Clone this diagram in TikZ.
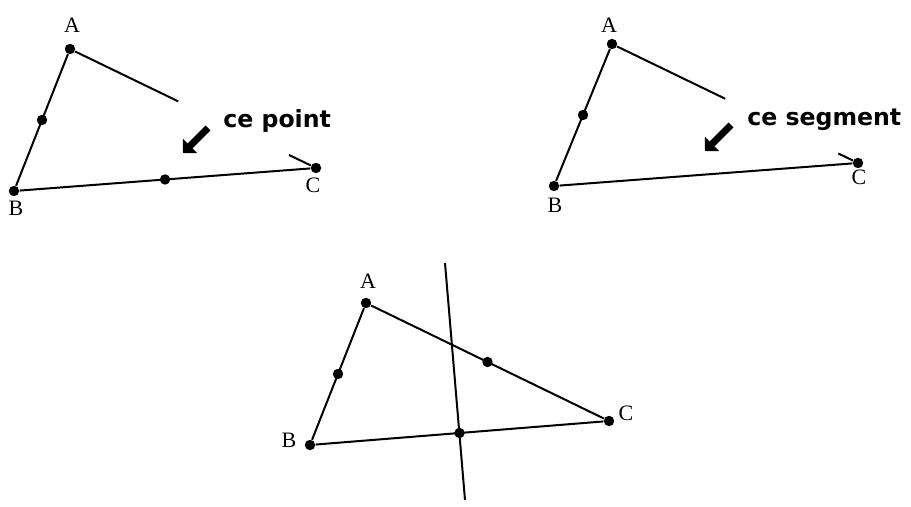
\documentclass[tikz,border=0pt]{standalone}
\usepackage{fontspec}
\setmainfont{Liberation Serif}
\newfontfamily\calloutfont{DejaVu Sans}
\usetikzlibrary{arrows.meta,calc}

\tikzset{
  vertex/.style={circle,fill=black,inner sep=0pt,minimum size=5.2pt},
  side/.style={line width=1pt},
  vlabel/.style={font=\fontsize{11}{12}\selectfont,inner sep=0pt},
  callout/.style={font=\calloutfont\bfseries\fontsize{11.8}{14}\selectfont,
    anchor=base west,inner sep=0pt},
  pointer/.style={line width=3.4pt,-{Triangle[angle=90:7pt]}},
}

\begin{document}
\begin{tikzpicture}[x=0.5pt,y=-0.5pt]
    \useasboundingbox (0,0) rectangle (911,507);

    % Panel 1: [AC] drawn from both ends, its middle missing
    \node[vertex] (A1) at (70,49) {};
    \node[vertex] (B1) at (14,191) {};
    \node[vertex] (C1) at (316,168) {};
    \draw[side] (A1) -- (B1) -- (C1);
    \draw[side] (A1) -- ($(A1)!0.44!(C1)$);
    \draw[side] (C1) -- ($(C1)!0.11!(A1)$);
    \node[vertex] (mAB1) at ($(A1)!0.5!(B1)$) {};
    \node[vertex] (mBC1) at ($(B1)!0.5!(C1)$) {};
    \node[vlabel] (lA1) at (72,25) {A};
    \node[vlabel] (lB1) at (16,208) {B};
    \node[vlabel] (lC1) at (313,185) {C};
    \coordinate (ptail1) at (208,128);
    \coordinate (ptip1) at (183,153);
    \draw[pointer] (ptail1) -- (ptip1);
    \node[callout] (txt1) at (223,128) {ce point};

    % Panel 2: same triangle, pointing to the segment
    \node[vertex] (A2) at (612,44) {};
    \node[vertex] (B2) at (554,186) {};
    \node[vertex] (C2) at (858,163) {};
    \draw[side] (A2) -- (B2) -- (C2);
    \draw[side] (A2) -- ($(A2)!0.46!(C2)$);
    \draw[side] (C2) -- ($(C2)!0.08!(A2)$);
    \node[vertex] (mAB2) at ($(A2)!0.5!(B2)$) {};
    \node[vlabel] (lA2) at (609,25) {A};
    \node[vlabel] (lB2) at (555,205) {B};
    \node[vlabel] (lC2) at (859,177) {C};
    \coordinate (ptail2) at (731,125);
    \coordinate (ptip2) at (705,151);
    \draw[pointer] (ptail2) -- (ptip2);
    \node[callout] (txt2) at (747,126) {ce segment};

    % Panel 3: full triangle, midpoints and bisector of [BC]
    \node[vertex] (A3) at (366,303) {};
    \node[vertex] (B3) at (310,445) {};
    \node[vertex] (C3) at (609,421) {};
    \draw[side] (A3) -- (B3) -- (C3) -- (A3);
    \foreach \p/\q in {A3/B3, A3/C3, B3/C3}{
      \node[vertex] (m\p\q) at ($(\p)!0.5!(\q)$) {};
    }
    \coordinate (bisT) at (445,263);
    \coordinate (bisB) at (465,500);
    \draw[side] (bisT) -- (bisB);
    \node[vlabel] (lA3) at (368,281) {A};
    \node[vlabel] (lB3) at (289,440) {B};
    \node[vlabel] (lC3) at (626,413) {C};
\end{tikzpicture}
\end{document}
